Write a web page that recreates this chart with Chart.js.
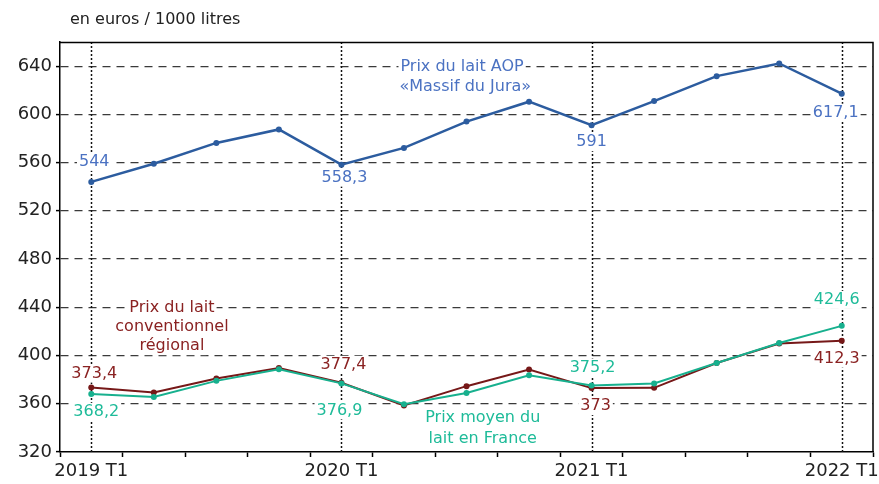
<!DOCTYPE html>
<html>
<head>
<meta charset="utf-8">
<script src="https://cdn.jsdelivr.net/npm/chart.js@4/dist/chart.umd.min.js"></script>
<style>
  html, body { margin: 0; padding: 0; background: #fff; }
  canvas { display: block; }
</style>
</head>
<body>
<canvas id="c" width="879" height="484"></canvas>
<script>
// ---- Data ----
const categories = ['2019 T1','2019 T2','2019 T3','2019 T4','2020 T1','2020 T2','2020 T3','2020 T4','2021 T1','2021 T2','2021 T3','2021 T4','2022 T1'];
const shownTickLabels = ['2019 T1','2020 T1','2021 T1','2022 T1'];
const aopJura = [544, 559, 576.3, 587.5, 558.3, 572.2, 594, 610.5, 591, 611, 631.7, 642.2, 617.1];
const conventionnelRegional = [373.4, 369.4, 380.9, 389.7, 377.4, 358.6, 374.6, 388.4, 373, 373.2, 393.8, 409.9, 412.3];
const moyenFrance = [368.2, 365.7, 379, 388.6, 376.9, 359.7, 369, 383.7, 375.2, 376.8, 393.8, 410.4, 424.6];
const yTickValues = [320, 360, 400, 440, 480, 520, 560, 600, 640];
const unitLabel = 'en euros / 1000 litres';
const seriesNames = {
  aop: ['Prix du lait AOP', '\u00abMassif du Jura\u00bb'],
  conv: ['Prix du lait', 'conventionnel', 'r\u00e9gional'],
  france: ['Prix moyen du', 'lait en France']
};
const labelledIndexes = [0, 4, 8, 12];

// ---- Styles ----
const FONT = "'DejaVu Sans', Verdana, sans-serif";
const C_BLUE = '#2c5c9f', C_BLUE_T = '#4b72c2';
const C_RED = '#761818', C_RED_T = '#8a2222';
const C_TEAL = '#17b08e', C_TEAL_T = '#1ebb99';

function fmt(v) { return String(v).replace('.', ','); }

const annotPlugin = {
  id: 'annot',
  beforeDatasetsDraw(chart) {
    const {ctx, chartArea, scales} = chart;
    ctx.save();
    ctx.strokeStyle = '#111';
    ctx.lineWidth = 1.5;
    ctx.setLineDash([2, 2]);
    labelledIndexes.forEach(i => {
      const x = Math.round(scales.x.getPixelForValue(i)) + 0.5;
      ctx.beginPath();
      ctx.moveTo(x, chartArea.top);
      ctx.lineTo(x, chartArea.bottom);
      ctx.stroke();
    });
    ctx.restore();
  },
  afterDatasetsDraw(chart) {
    const {ctx, chartArea, scales} = chart;
    ctx.save();
    ctx.font = '16px ' + FONT;
    ctx.textAlign = 'center';
    ctx.textBaseline = 'middle';
    function boxText(t, x, y, color) {
      const w = ctx.measureText(t).width;
      ctx.fillStyle = '#fff';
      ctx.fillRect(x - w / 2 - 2, y - 9, w + 4, 18);
      ctx.fillStyle = color;
      ctx.fillText(t, x, y);
    }
    const specs = [
      [0, aopJura, C_BLUE_T, [[3, -20], [3, 13], [0, 17], [-6, 19]]],
      [2, conventionnelRegional, C_RED_T, [[3, -14], [2, -18], [4, 18], [-5, 18]]],
      [1, moyenFrance, C_TEAL_T, [[5, 18], [-2, 27], [1, -18], [-5, -26]]]
    ];
    specs.forEach(([di, arr, col, offs]) => {
      const meta = chart.getDatasetMeta(di);
      labelledIndexes.forEach((idx, k) => {
        const p = meta.data[idx];
        boxText(fmt(arr[idx]), p.x + offs[k][0], p.y + offs[k][1], col);
      });
    });
    const X = v => scales.x.getPixelForValue(v);
    const Y = v => scales.y.getPixelForValue(v);
    boxText(seriesNames.aop[0], X(5.93), Y(639.2), C_BLUE_T);
    boxText(seriesNames.aop[1], X(5.98), Y(622.4), C_BLUE_T);
    seriesNames.conv.forEach((t, i) => boxText(t, X(1.29), Y([439.9, 423.6, 407.8][i]), C_RED_T));
    seriesNames.france.forEach((t, i) => boxText(t, X(6.26), Y([348.1, 330.8][i]), C_TEAL_T));
    ctx.restore();
  },
  afterDraw(chart) {
    const {ctx, chartArea} = chart;
    ctx.save();
    ctx.strokeStyle = '#000';
    ctx.lineWidth = 1.5;
    ctx.beginPath();
    ctx.moveTo(chartArea.left, chartArea.top + 0.5);
    ctx.lineTo(chartArea.right, chartArea.top + 0.5);
    ctx.lineTo(chartArea.right, chartArea.bottom);
    ctx.stroke();
    ctx.font = '16px ' + FONT;
    ctx.fillStyle = '#222';
    ctx.textAlign = 'left';
    ctx.textBaseline = 'middle';
    ctx.fillText(unitLabel, 70, 20);
    ctx.restore();
  }
};

new Chart(document.getElementById('c'), {
  type: 'line',
  data: {
    labels: categories,
    datasets: [
      { label: seriesNames.aop.join(' '), data: aopJura, borderColor: C_BLUE, backgroundColor: C_BLUE, borderWidth: 2.5, pointRadius: 3, pointBorderWidth: 0, tension: 0 },
      { label: seriesNames.france.join(' '), data: moyenFrance, borderColor: C_TEAL, backgroundColor: C_TEAL, borderWidth: 2, pointRadius: 3, pointBorderWidth: 0, tension: 0 },
      { label: seriesNames.conv.join(' '), data: conventionnelRegional, borderColor: C_RED, backgroundColor: C_RED, borderWidth: 2, pointRadius: 3, pointBorderWidth: 0, tension: 0 }
    ]
  },
  options: {
    responsive: false,
    animation: false,
    layout: { padding: { top: 42, right: 6, left: 0, bottom: 0 } },
    plugins: { legend: { display: false }, tooltip: { enabled: false }, title: { display: false } },
    scales: {
      x: {
        type: 'category',
        offset: true,
        grid: { offset: true, drawOnChartArea: false, drawTicks: true, tickLength: 5, tickColor: '#000', tickWidth: 1.5, color: '#000' },
        border: { display: true, color: '#000', width: 1.5 },
        ticks: {
          autoSkip: false, maxRotation: 0, minRotation: 0, padding: 4,
          color: '#222', font: { family: FONT, size: 18 },
          callback: function(v, i) { const l = categories[i]; return shownTickLabels.includes(l) ? l : ''; }
        },
        afterFit(scale) { scale.height = 32; scale.paddingLeft = 0; scale.paddingRight = 0; }
      },
      y: {
        min: 320, max: 660,
        grid: {
          color: ctx => (ctx.tick && yTickValues.includes(ctx.tick.value) && ctx.tick.value > 320) ? '#3a3a3a' : 'rgba(0,0,0,0)',
          lineWidth: 1.2,
          drawTicks: true, tickLength: 4, tickColor: '#000', tickWidth: 1.5
        },
        border: { display: true, color: '#000', width: 1.5, dash: [8, 6] },
        ticks: {
          stepSize: 20, padding: 4, color: '#222', font: { family: FONT, size: 18 },
          callback: v => yTickValues.includes(v) ? String(v) : ''
        },
        afterFit(scale) { scale.width = 60; }
      }
    }
  },
  plugins: [annotPlugin]
});
</script>
</body>
</html>
